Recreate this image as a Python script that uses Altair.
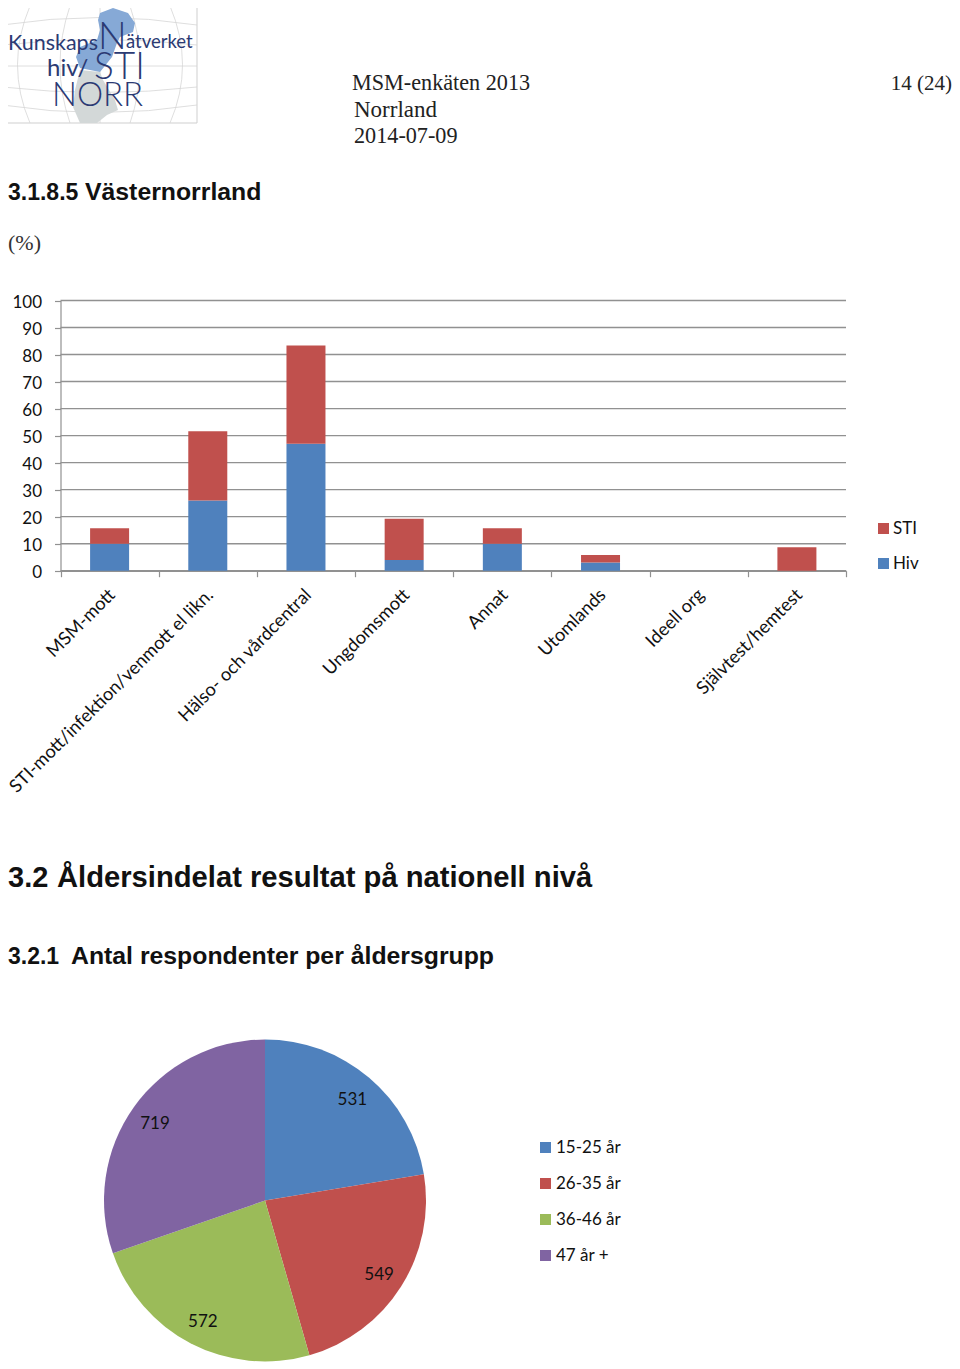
import altair as alt
import pandas as pd

categories = ["MSM-mott", "STI-mott/infektion/venmott el likn.", "Hälso- och vårdcentral", "Ungdomsmott",
              "Annat", "Utomlands", "Ideell org", "Självtest/hemtest"]
hiv = [10, 26, 47, 4, 10, 3, 0, 0]
sti = [5.7, 25.6, 36.3, 15.2, 5.7, 2.8, 0, 8.7]
grid_values = list(range(0, 101, 10))
age_groups = ["15-25 år", "26-35 år", "36-46 år", "47 år +"]
age_counts = [531, 549, 572, 719]
series_names = ["STI", "Hiv"]

BLUE, RED, GREEN, PURPLE = "#4F81BD", "#C0504D", "#9BBB59", "#8064A2"
SANS = "Lato"
SERIF = "Liberation Serif"
HEAD = "Liberation Sans"
OFF = 8


def label(s, x, y, size, font=SANS, weight="normal", color="#111111", align="left"):
    return alt.Chart(pd.DataFrame({"t": [s]})).mark_text(
        font=font, fontSize=size, fontWeight=weight, color=color, align=align, baseline="alphabetic"
    ).encode(x=alt.value(x - OFF), y=alt.value(y - OFF), text="t:N")


def shape(path, fill=None, stroke=None, sw=0.7):
    kw = dict(shape=path, size=4, opacity=1)
    if fill:
        kw.update(filled=True, fill=fill, strokeWidth=0)
    else:
        kw.update(filled=False, stroke=stroke, strokeWidth=sw)
    return alt.Chart(pd.DataFrame({"a": [0]})).mark_point(**kw).encode(
        x=alt.value(-OFF), y=alt.value(-OFF))


# ---- logo sketch
frame = "M2 6 L197 6 L197 123 L2 123 Z"
globe = ("M2 25 Q100 10 197 25 M2 45 Q100 34 197 45 M2 66 L197 66 M2 87 Q100 98 197 87 M2 105 Q100 120 197 105 "
         "M100 6 L100 123 M70 6 Q50 65 70 123 M130 6 Q150 65 130 123 M30 6 Q5 65 30 123 M170 6 Q195 65 170 123")
sweden_n = ("M100 13 L113 8 L128 13 L135 23 L133 32 L120 37 L117 43 L112 57 L100 72 L80 68 L76 57 L80 47 L97 40 "
            "L100 30 L98 20 Z")
sweden_s = "M80 70 L100 72 L103 80 L115 100 L118 110 L107 115 L97 123 L80 123 L73 107 L75 90 Z"
LOGO = "#2B3A73"
logo = [
    shape(frame, stroke="#CFCFCF", sw=1),
    shape(globe, stroke="#D5D5D5", sw=0.8),
    shape(sweden_s, fill="#D3D8D8"),
    shape(sweden_n, fill="#86A9D6"),
    label("Kunskaps", 8, 50, 21.5, color=LOGO),
    label("N", 98, 49, 38, color=LOGO, weight=300),
    label("ätverket", 126, 48, 18.5, color=LOGO),
    label("hiv/", 47, 76, 24, color=LOGO),
    label("STI", 94, 79, 37, color=LOGO, weight=300),
    label("NORR", 52, 106, 33, color=LOGO, weight=300),
]

# ---- page text
texts = [
    label("MSM-enkäten 2013", 352, 90, 22.2, font=SERIF, color="#222222"),
    label("14 (24)", 952, 90, 21, font=SERIF, color="#222222", align="right"),
    label("Norrland", 354, 117, 23, font=SERIF, color="#222222"),
    label("2014-07-09", 354, 143, 22.2, font=SERIF, color="#222222"),
    label("3.1.8.5", 8, 200, 23, font=HEAD, weight="bold"),
    label("Västernorrland", 85, 200, 24.8, font=HEAD, weight="bold"),
    label("(%)", 8, 250, 22, font=SERIF, color="#333333"),
    label("3.2", 8, 887, 29, font=HEAD, weight="bold"),
    label("Åldersindelat resultat på nationell nivå", 57, 887, 29.2, font=HEAD, weight="bold"),
    label("3.2.1", 8, 964, 23, font=HEAD, weight="bold"),
    label("Antal respondenter per åldersgrupp", 71, 964, 24.8, font=HEAD, weight="bold"),
]

# ---- stacked bars
rows = []
for c, h, s in zip(categories, hiv, sti):
    rows.append({"cat": c, "serie": "Hiv", "v": h, "ord": 0})
    rows.append({"cat": c, "serie": "STI", "v": s, "ord": 1})
bars_df = pd.DataFrame(rows)

yscale = alt.Scale(domain=[0, 100], range=[570.7 - OFF, 300.5 - OFF], nice=False)
xscale = alt.Scale(domain=categories, range=[60.5 - OFF, 846 - OFF], paddingInner=0, paddingOuter=0)
yaxis = alt.Axis(
    orient="left", offset=-(60.5 - OFF), values=grid_values, labelFont=SANS, labelFontSize=17,
    labelColor="#111111", labelPadding=13, labelOffset=1.5, tickSize=6, tickColor="#919191",
    domainColor="#919191", tickWidth=1.2, domainWidth=1.2, grid=False, labelBaseline="middle")

grid = alt.Chart(pd.DataFrame({"g": grid_values})).mark_rule(color="#919191", strokeWidth=1.4).encode(
    y=alt.Y("g:Q", scale=yscale, title=None, axis=yaxis),
    x=alt.value(60.5 - OFF), x2=alt.value(846 - OFF),
)

bars = alt.Chart(bars_df).mark_bar(size=39).encode(
    x=alt.X("cat:N", scale=xscale, sort=categories, title=None, axis=alt.Axis(
        orient="bottom", offset=-(1361 - (570.7 - OFF)), labelAngle=-45, labelFont=SANS, labelFontSize=18.2,
        labelColor="#111111", labelPadding=9, labelOffset=-4, labelOverlap=False, labelLimit=400,
        tickBand="extent", tickSize=6, tickColor="#919191", domainColor="#919191", tickWidth=1.2,
        domainWidth=1.4, grid=False)),
    y=alt.Y("v:Q", scale=yscale, stack="zero", title=None, axis=yaxis),
    color=alt.Color("serie:N", scale=alt.Scale(domain=series_names, range=[RED, BLUE]), title=None,
                    legend=alt.Legend(orient="none", legendX=867, legendY=512, symbolType="square",
                                      symbolSize=121, symbolStrokeWidth=0, labelFont=SANS, labelFontSize=17,
                                      labelColor="#111111", rowPadding=17, labelOffset=1,
                                      symbolOpacity=1)),
    order=alt.Order("ord:Q"),
)

# ---- pie
pie_df = pd.DataFrame({"g": age_groups, "n": age_counts, "ord": range(len(age_counts))})
theta = alt.Theta("n:Q", stack=True, scale=alt.Scale(range=[0, 6.283185307]))
cx, cy = alt.value(265 - OFF), alt.value(1200.5 - OFF)

pie = alt.Chart(pie_df).mark_arc(radius=161, strokeWidth=0).encode(
    theta=theta, x=cx, y=cy, order=alt.Order("ord:Q"),
    color=alt.Color("g:N", scale=alt.Scale(domain=age_groups, range=[BLUE, RED, GREEN, PURPLE]), title=None,
                    legend=alt.Legend(orient="none", legendX=529, legendY=1131, symbolType="square",
                                      symbolSize=121, symbolStrokeWidth=0, labelFont=SANS, labelFontSize=17,
                                      labelColor="#111111", rowPadding=18, labelOffset=2, symbolOpacity=1)),
)
pie_text = alt.Chart(pie_df).mark_text(radius=135, dy=2, font=SANS, fontSize=17, color="#111111").encode(
    theta=theta, x=cx, y=cy, order=alt.Order("ord:Q"), text="n:Q",
)

chart = alt.layer(*logo, *texts, grid, bars, pie, pie_text).resolve_scale(
    color="independent"
).properties(
    width=944, height=1361, padding=0, autosize=alt.AutoSizeParams(type="none")
).configure_view(stroke=None)

chart.save("out.html", embed_options={"renderer": "svg", "actions": False})
